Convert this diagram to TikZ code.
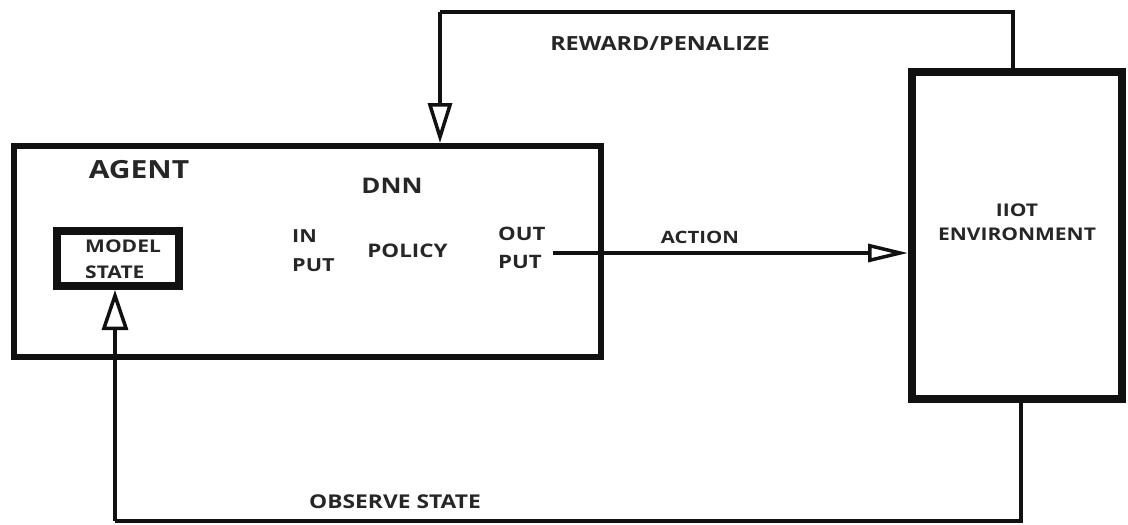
\documentclass[tikz,border=0pt]{standalone}
\usepackage{fontspec}
\setmainfont{Open Sans}
\newfontfamily\lblfont{Open Sans}[FakeStretch=1.2]
\usetikzlibrary{arrows.meta}
\definecolor{ink}{HTML}{111111}
\definecolor{txt}{HTML}{262626}
\tikzset{
  block/.style={draw=ink, line width=#1, inner sep=0pt},
  conn/.style={draw=ink, line width=4pt},
  tip/.style={-{Triangle[open, length=40pt, width=#1, line width=3.5pt]}},
  lbl/.style={text=txt, font=\lblfont\bfseries\fontsize{#1}{#1}\selectfont, inner sep=0pt, anchor=base},
  lblw/.style={lbl=#1, anchor=base west}
}
\begin{document}
\begin{tikzpicture}[x=1pt, y=-1pt]
\useasboundingbox (0,0) rectangle (1128,525);

% agent block
\node[block=6pt, minimum width=587pt, minimum height=211pt] (agent) at (307,251.5) {};
% environment block
\node[block=8pt, minimum width=210pt, minimum height=327pt] (env) at (1017,235.5) {};
% model state block
\node[block=8pt, minimum width=122pt, minimum height=55pt] (model) at (118,258.5) {};

% labels (placed on their baselines)
\node[lbl=25] (agentlbl) at (139,178) {AGENT};
\node[lbl=21.5] (dnn) at (392,193) {DNN};
\node[lblw=18] (in1) at (292,242) {IN};
\node[lblw=18] (in2) at (292,271) {PUT};
\node[lbl=18.7] (policy) at (407.5,257) {POLICY};
\node[lblw=18.5] (out1) at (498,240) {OUT};
\node[lblw=18.5] (out2) at (498,268.5) {PUT};
\node[lblw=17.5] (model1) at (85,252) {MODEL};
\node[lblw=17.5] (model2) at (85,278.5) {STATE};
\node[lbl=17.5] (env1) at (1017,216) {IIOT};
\node[lbl=17.5] (env2) at (1017,240.5) {ENVIRONMENT};
\node[lbl=17] (action) at (700,243) {ACTION};
\node[lbl=19.5] (reward) at (660,50) {REWARD/PENALIZE};
\node[lbl=19] (observe) at (395,508) {OBSERVE STATE};

% connectors
\coordinate (rtop) at (440,12);
\coordinate (obot) at (1021,521);
\coordinate (aout) at (553,253);
\coordinate (mfoot) at (115,521);
\draw[conn] (env.north -| 1013,0) |- (rtop);
\draw[conn, tip=24pt] (rtop) -- (rtop |- agent.north);
\draw[conn, tip=18pt] (aout) -- (aout -| env.west);
\draw[conn] (obot |- env.south) -- (obot) -- (mfoot);
\draw[conn, tip=26pt] (mfoot) -- (mfoot |- model.south);
\end{tikzpicture}
\end{document}
